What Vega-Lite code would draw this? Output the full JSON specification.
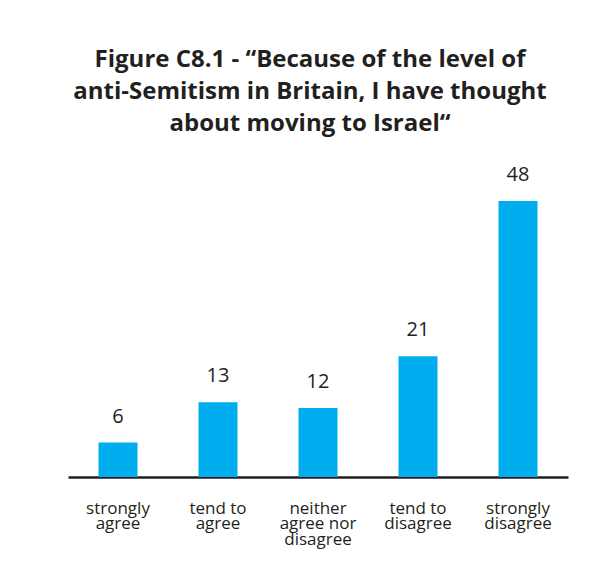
{
  "$schema": "https://vega.github.io/schema/vega-lite/v6.json",
  "width": 500,
  "height": 327,
  "autosize": {"type": "none"},
  "padding": {"left": 68, "top": 150, "right": 40, "bottom": 101},
  "background": "white",
  "title": {
    "text": ["Figure C8.1 - “Because of the level of", "anti-Semitism in Britain, I have thought", "about moving to Israel“"],
    "font": "Open Sans",
    "fontSize": 24,
    "fontWeight": "bold",
    "color": "#231f20",
    "lineHeight": 32,
    "anchor": "middle",
    "dx": -8,
    "offset": 14
  },
  "data": {
    "values": [
      {"response": "strongly agree", "value": 6},
      {"response": "tend to agree", "value": 13},
      {"response": "neither agree nor disagree", "value": 12},
      {"response": "tend to disagree", "value": 21},
      {"response": "strongly disagree", "value": 48}
    ]
  },
  "encoding": {
    "x": {
      "field": "response",
      "type": "nominal",
      "sort": null,
      "scale": {"paddingInner": 0.61, "paddingOuter": 0.305},
      "axis": {
        "title": null,
        "ticks": false,
        "domainColor": "#231f20",
        "domainWidth": 2.5,
        "labelAngle": 0,
        "labelFont": "Open Sans",
        "labelFontSize": 17,
        "labelColor": "#231f20",
        "labelLineHeight": 15.5,
        "labelPadding": 23,
        "labelBaseline": "top",
        "labelExpr": "datum.value == 'strongly agree' ? ['strongly', 'agree'] : datum.value == 'tend to agree' ? ['tend to', 'agree'] : datum.value == 'neither agree nor disagree' ? ['neither', 'agree nor', 'disagree'] : datum.value == 'tend to disagree' ? ['tend to', 'disagree'] : ['strongly', 'disagree']"
      }
    },
    "y": {
      "field": "value",
      "type": "quantitative",
      "scale": {"domain": [0, 56.87], "nice": false},
      "axis": null
    }
  },
  "layer": [
    {"mark": {"type": "bar", "color": "#00aeef"}},
    {
      "mark": {"type": "text", "baseline": "bottom", "dy": -16, "font": "Open Sans", "fontSize": 20, "color": "#231f20"},
      "encoding": {"text": {"field": "value", "type": "quantitative"}}
    }
  ],
  "config": {"view": {"stroke": null}}
}
